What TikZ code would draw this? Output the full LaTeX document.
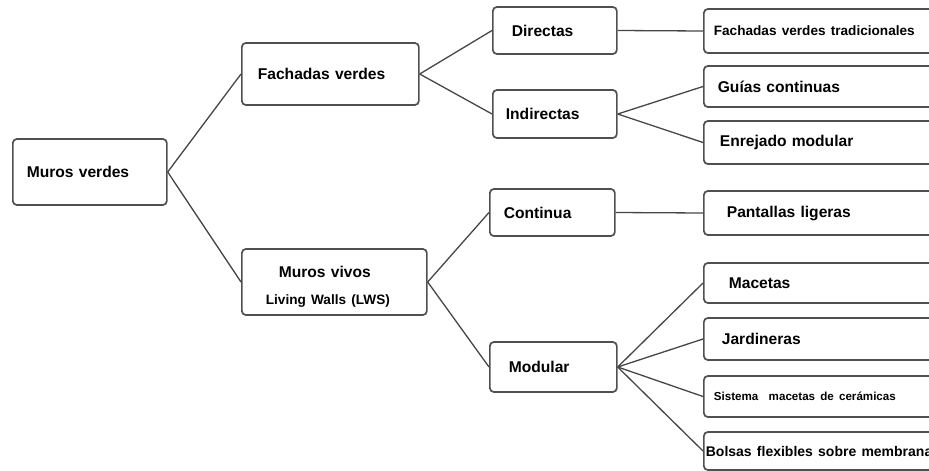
\documentclass[tikz,border=0pt]{standalone}
\usepackage{fontspec}
\setmainfont{Liberation Sans}
\usepackage{tikz}
\definecolor{boxgray}{RGB}{80,80,80}
\definecolor{linegray}{RGB}{70,70,70}

\begin{document}
\begin{tikzpicture}[x=1pt, y=-1pt,
  box/.style={draw=boxgray, line width=1.7pt, rounded corners=4pt, fill=white,
    anchor=west, align=left, inner xsep=0pt, inner ysep=0pt,
    font=\fontsize{15.6}{18}\selectfont\bfseries},
  leafbox/.style={box, text width=250pt},
  link/.style={draw=linegray, line width=1.3pt}]
  \useasboundingbox (0,0) rectangle (929,471);
  \clip (0,0) rectangle (929,471);
  % Root
  \node[box, text width=154pt, minimum height=66pt] (mv) at (12,172) {\hspace*{14pt}Muros verdes};
  % Second level
  \node[box, text width=177pt, minimum height=62pt] (fv) at (241,74) {\hspace*{16pt}Fachadas verdes};
  \node[box, text width=185pt, minimum height=66pt] (viv) at (241,282)
    {\rule{0pt}{21pt}\hspace*{37pt}Muros vivos\\[9pt]\hspace*{24pt}{\fontsize{13.6}{16}\selectfont Living Walls (LWS)}};
  % Third level
  \node[box, text width=124pt, minimum height=47pt] (dir) at (492,30.5) {\hspace*{19pt}Directas};
  \node[box, text width=124pt, minimum height=48pt] (ind) at (492,114) {\hspace*{13pt}Indirectas};
  \node[box, text width=125pt, minimum height=47pt] (con) at (489,212.5) {\hspace*{14pt}Continua};
  \node[box, text width=127pt, minimum height=50pt] (mod) at (489,367) {\hspace*{19pt}Modular};
  % Leaves (cut at the right edge)
  \node[leafbox, minimum height=44pt] (fvt) at (703,31)
    {\hspace*{10pt}{\fontsize{13.6}{16}\selectfont Fachadas verdes tradicionales}};
  \node[leafbox, minimum height=41pt] (gui) at (703,86.5) {\hspace*{14pt}Guías continuas};
  \node[leafbox, minimum height=43pt] (enr) at (703,142.5) {\hspace*{16pt}Enrejado modular};
  \node[leafbox, minimum height=44pt] (pan) at (703,213) {\hspace*{23pt}Pantallas ligeras};
  \node[leafbox, minimum height=40pt] (mac) at (703,283) {\hspace*{25pt}Macetas};
  \node[leafbox, minimum height=42pt] (jar) at (703,339) {\hspace*{18pt}Jardineras};
  \node[leafbox, minimum height=41pt] (sis) at (703,396.5)
    {\hspace*{10pt}{\fontsize{11.6}{14}\selectfont Sistema\ \ macetas de cerámicas}};
  \node[leafbox, minimum height=38pt] (bol) at (703,451)
    {\hspace*{2pt}{\fontsize{14}{16}\selectfont Bolsas flexibles sobre membrana}};
  % Connectors
  \draw[link] (mv.east) -- (fv.west);
  \draw[link] (mv.east) -- (viv.west);
  \draw[link] (fv.east) -- (dir.west);
  \draw[link] (fv.east) -- (ind.west);
  \draw[link] (viv.east) -- (con.west);
  \draw[link] (viv.east) -- (mod.west);
  \draw[link] (dir.east) -- (fvt.west);
  \draw[link] (ind.east) -- (gui.west);
  \draw[link] (ind.east) -- (enr.west);
  \draw[link] (con.east) -- (pan.west);
  \foreach \leaf in {mac,jar,sis,bol}
    \draw[link] (mod.east) -- (\leaf.west);
\end{tikzpicture}
\end{document}
